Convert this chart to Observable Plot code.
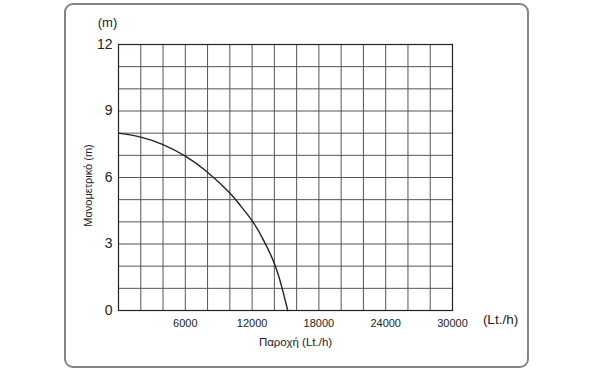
<!DOCTYPE html>
<html>
<head>
<meta charset="utf-8">
<script src="https://cdn.jsdelivr.net/npm/d3@7"></script>
<script src="https://cdn.jsdelivr.net/npm/@observablehq/plot@0.6"></script>
<style>
  html, body { margin: 0; padding: 0; background: #fff; }
  #wrap { position: relative; width: 590px; height: 372px; }
  #border { position: absolute; left: 64px; top: 3px; width: 461px; height: 361px;
            border: 2px solid #858585; border-radius: 9px; pointer-events: none; }
</style>
</head>
<body>
<div id="wrap"><div id="border"></div></div>
<script>
// Pump curve: flow (Lt./h) vs head (m)
const flow = [0, 2000, 4000, 6000, 8000, 10000, 11000, 12000, 13000, 14000, 14700, 15200];
const head = [8.0, 7.82, 7.48, 6.96, 6.24, 5.3, 4.7, 4.05, 3.2, 2.12, 1.0, 0];
const xTicks = [6000, 12000, 18000, 24000, 30000];
const yTicks = [0, 3, 6, 9, 12];
const xGrid = [0, 2000, 4000, 6000, 8000, 10000, 12000, 14000, 16000, 18000, 20000, 22000, 24000, 26000, 28000, 30000];
const yGrid = [0, 1, 2, 3, 4, 5, 6, 7, 8, 9, 10, 11, 12];
const xUnit = "(Lt./h)";
const yUnit = "(m)";
const xTitle = "Παροχή (Lt./h)";
const yTitle = "Μανομετρικό (m)";

const data = flow.map((f, i) => ({flow: f, head: head[i]}));

const chart = Plot.plot({
  width: 590,
  height: 372,
  marginLeft: 118,
  marginRight: 138,
  marginTop: 44,
  marginBottom: 62,
  style: {fontFamily: "'Liberation Sans', Arial, sans-serif", color: "#222", background: "transparent"},
  x: {domain: [0, 30000]},
  y: {domain: [0, 12]},
  marks: [
    Plot.ruleX(xGrid, {stroke: "#555", strokeWidth: 1}),
    Plot.ruleY(yGrid, {stroke: "#555", strokeWidth: 1}),
    Plot.frame({stroke: "#222", strokeWidth: 1.2}),
    Plot.line(data, {x: "flow", y: "head", curve: "natural", stroke: "#222", strokeWidth: 1.4}),
    Plot.axisX(xTicks, {tickSize: 0, tickPadding: 9, fontSize: 11, label: null, tickFormat: d => String(d)}),
    Plot.axisY(yTicks, {tickSize: 0, tickPadding: 6, fontSize: 14, label: null}),
    Plot.text([yUnit], {text: d => d, frameAnchor: "top-left", dx: -11, dy: -27, fontSize: 13, textAnchor: "middle", fill: "#222"}),
    Plot.text([xUnit], {text: d => d, frameAnchor: "bottom-right", dx: 48, dy: 13, fontSize: 13.5, textAnchor: "middle", fill: "#222"}),
    Plot.text([xTitle], {text: d => d, frameAnchor: "bottom", dx: 10, dy: 35, fontSize: 11.5, textAnchor: "middle", fill: "#222"}),
    Plot.text([yTitle], {text: d => d, frameAnchor: "left", dx: -30, dy: 8, rotate: -90, fontSize: 11, textAnchor: "middle", fill: "#222"})
  ]
});
chart.style.position = "absolute";
chart.style.left = "0px";
chart.style.top = "0px";
document.getElementById("wrap").appendChild(chart);
</script>
</body>
</html>
